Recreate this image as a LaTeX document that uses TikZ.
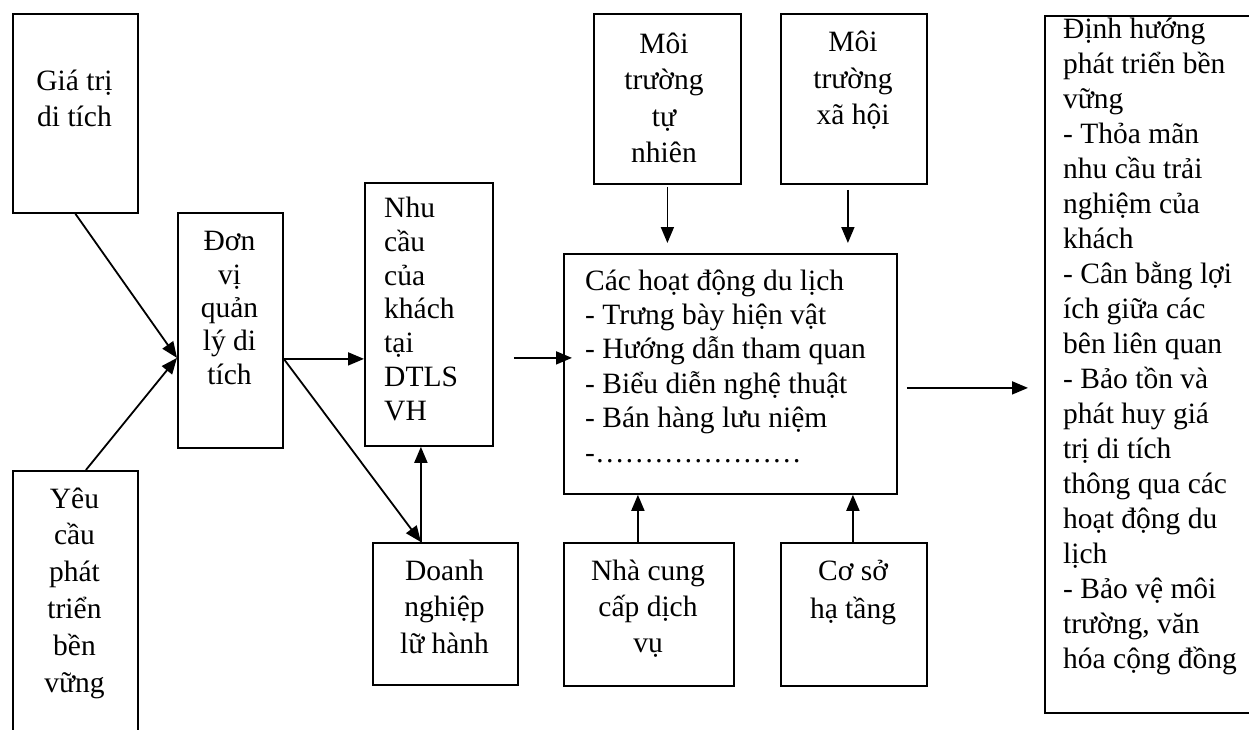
\documentclass[tikz,border=0pt]{standalone}
\usepackage{fontspec}
\setmainfont{Liberation Serif}
\usetikzlibrary{arrows.meta}
\begin{document}
\begin{tikzpicture}[x=1pt, y=-1pt,
	box/.style={draw, line width=1.8pt, inner sep=0pt, anchor=north west},
	txt/.style={inner sep=0pt, font=\fontsize{29.5}{35}\selectfont},
	arr/.style={line width=1.8pt, -{Triangle[length=16pt,width=13pt]}}]
	\useasboundingbox (0,0) rectangle (1249,730);
	\clip (0,0) rectangle (1249,730);

	\node[box, minimum width=125pt, minimum height=199pt] (gia) at (12,13) {};
	\node[box, minimum width=125pt, minimum height=300pt] (yeu) at (12,470) {};
	\node[box, minimum width=105pt, minimum height=235pt] (don) at (177,212) {};
	\node[box, minimum width=128pt, minimum height=263pt] (nhu) at (364,182) {};
	\node[box, minimum width=145pt, minimum height=142pt] (doanh) at (372,542) {};
	\node[box, minimum width=147pt, minimum height=170pt] (moi1) at (593,13) {};
	\node[box, minimum width=146pt, minimum height=170pt] (moi2) at (780,13) {};
	\node[box, minimum width=333pt, minimum height=240pt] (hd) at (563,253) {};
	\node[box, minimum width=170pt, minimum height=143pt] (nha) at (563,542) {};
	\node[box, minimum width=146pt, minimum height=143pt] (coso) at (780,542) {};
	\node[box, minimum width=230pt, minimum height=697pt] (dinh) at (1044,15) {};

	% texts sit on the baseline of their last line
	\node[txt, anchor=base, align=center, font=\fontsize{29.5}{36.7}\selectfont] (giaT) at (74.5,127) {Giá trị\\di tích};
	\node[txt, anchor=base, align=center, font=\fontsize{29.5}{36.8}\selectfont] (yeuT) at (74.5,692) {Yêu\\cầu\\phát\\triển\\bền\\vững};
	\node[txt, anchor=base, align=center, font=\fontsize{29.5}{33.3}\selectfont] (donT) at (229.5,384) {Đơn\\vị\\quản\\lý di\\tích};
	\node[txt, anchor=base west, align=left, font=\fontsize{29.5}{33.7}\selectfont] (nhuT) at (384,420) {Nhu\\cầu\\của\\khách\\tại\\DTLS\\VH};
	\node[txt, anchor=base, align=center, font=\fontsize{29.5}{36.5}\selectfont] (doanhT) at (444.5,653) {Doanh\\nghiệp\\lữ hành};
	\node[txt, anchor=base, align=center, font=\fontsize{29.5}{36.5}\selectfont] (moi1T) at (664,163) {Môi\\trường\\tự\\nhiên};
	\node[txt, anchor=base, align=center, font=\fontsize{29.5}{36.5}\selectfont] (moi2T) at (853,125) {Môi\\trường\\xã hội};
	\node[txt, anchor=base west, align=left, font=\fontsize{29.5}{34.4}\selectfont] (hdT) at (585,462) {Các hoạt động du lịch\\- Trưng bày hiện vật\\- Hướng dẫn tham quan\\- Biểu diễn nghệ thuật\\- Bán hàng lưu niệm\\-…………………};
	\node[txt, anchor=base, align=center, font=\fontsize{29.5}{36}\selectfont] (nhaT) at (648,652) {Nhà cung\\cấp dịch\\vụ};
	\node[txt, anchor=base, align=center, font=\fontsize{29.5}{38}\selectfont] (cosoT) at (853,618) {Cơ sở\\hạ tầng};
	\node[txt, anchor=base west, align=left] (dinhT) at (1063,668) {Định hướng\\phát triển bền\\vững\\- Thỏa mãn\\nhu cầu trải\\nghiệm của\\khách\\- Cân bằng lợi\\ích giữa các\\bên liên quan\\- Bảo tồn và\\phát huy giá\\trị di tích\\thông qua các\\hoạt động du\\lịch\\- Bảo vệ môi\\trường, văn\\hóa cộng đồng};

	\draw[arr] (gia.south) -- ([yshift=-27.5pt]don.west);
	\draw[arr] ([xshift=10.5pt]yeu.north) -- ([yshift=-27.5pt]don.west);
	\draw[arr] ([yshift=-28.5pt]don.east) -- ([yshift=-28.5pt]nhu.west |- don.east);
	\draw[arr] ([yshift=-28.5pt]don.east) -- ([xshift=-24.5pt]doanh.north);
	\draw[arr] ([xshift=-24.5pt]doanh.north) -- ([xshift=-24.5pt]doanh.north |- nhu.south);
	\draw[arr] ([xshift=20pt, yshift=-43.5pt]nhu.east) -- ([xshift=9pt, yshift=16pt]hd.west);
	\draw[arr] ([yshift=-2pt]moi1.south) -- ([yshift=10pt]hd.north -| moi1.south);
	\draw[arr] ([xshift=-6pt, yshift=-5pt]moi2.south) -- ([xshift=-6pt, yshift=10pt]hd.north -| moi2.south);
	\draw[arr] ([xshift=-11pt]nha.north) -- ([xshift=-11pt]nha.north |- hd.south);
	\draw[arr] ([xshift=-1pt]coso.north) -- ([xshift=-1pt]coso.north |- hd.south);
	\draw[arr] ([xshift=9pt, yshift=-14pt]hd.east) -- ([xshift=-16pt, yshift=-23.5pt]dinh.west);
\end{tikzpicture}
\end{document}
